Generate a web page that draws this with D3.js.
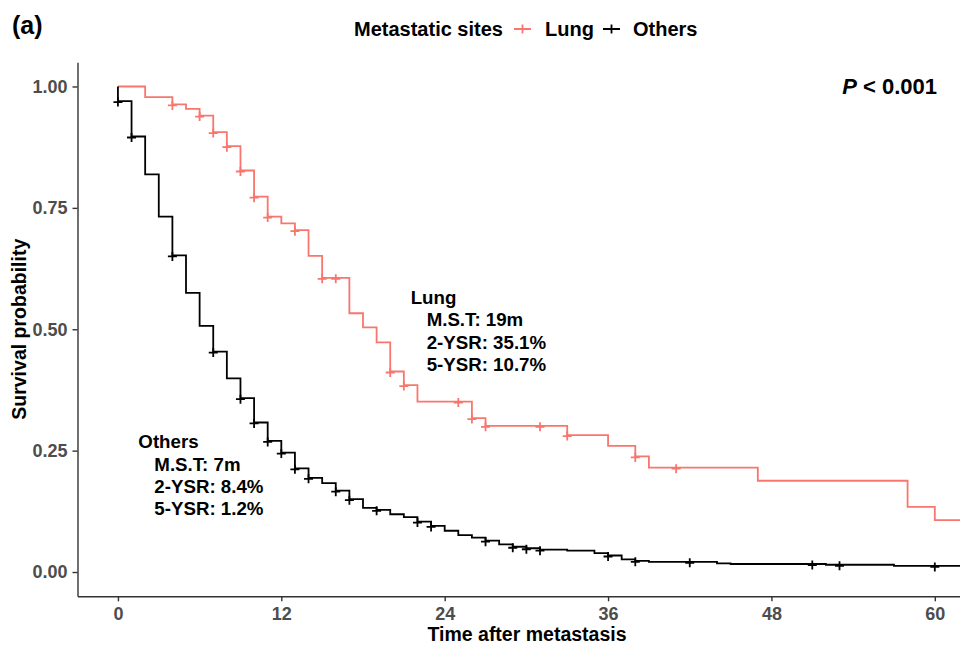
<!DOCTYPE html>
<html>
<head>
<meta charset="utf-8">
<script src="https://cdn.jsdelivr.net/npm/d3@7"></script>
<style>
  body { margin: 0; background: #fff; }
  text { font-family: "Liberation Sans", Arial, sans-serif; font-weight: bold; }
</style>
</head>
<body>
<script>
// survival steps (months, survival after step)
const lungTimes = [0, 2, 4, 5, 6, 7, 8, 9, 10, 11, 12, 13, 14, 15, 17, 18, 19, 20, 21, 22, 26, 27, 33, 36, 38, 39, 47, 58, 60];
const lungSurv = [1, 0.978, 0.963, 0.954, 0.94, 0.906, 0.877, 0.827, 0.773, 0.732, 0.718, 0.704, 0.651, 0.606, 0.533, 0.504, 0.473, 0.413, 0.385, 0.351, 0.317, 0.301, 0.282, 0.26, 0.238, 0.215, 0.188, 0.134, 0.107];
const lungCensor = [4, 6, 7, 8, 9, 10, 11, 13, 15, 16, 20, 21, 25, 26, 27, 31, 33, 38, 41];

const otherTimes = [0, 0, 1, 2, 3, 4, 5, 6, 7, 8, 9, 10, 11, 12, 13, 14, 15, 16, 17, 18, 19, 20, 21, 22, 23, 24, 25, 26, 27, 28, 29, 30, 31, 33, 35, 36, 37, 38, 39, 44, 45, 52, 57];
const otherSurv = [1, 0.97, 0.897, 0.819, 0.732, 0.652, 0.575, 0.507, 0.454, 0.399, 0.358, 0.308, 0.27, 0.246, 0.2135, 0.194, 0.183, 0.1675, 0.15, 0.132, 0.128, 0.119, 0.113, 0.104, 0.095, 0.085, 0.076, 0.071, 0.0645, 0.057, 0.052, 0.049, 0.046, 0.044, 0.039, 0.034, 0.026, 0.023, 0.021, 0.018, 0.0165, 0.015, 0.0125];
const otherCensor = [0, 1, 4, 7, 9, 10, 11, 12, 13, 14, 16, 17, 19, 22, 23, 27, 29, 30, 31, 36, 38, 42, 51, 53, 60];

const groups = ["Lung", "Others"];
const colors = ["#F8766D", "#000000"];
const xTicks = [0, 12, 24, 36, 48, 60];
const yTicks = [0, 0.25, 0.5, 0.75, 1];

const lungNote = ["Lung", "M.S.T: 19m", "2-YSR: 35.1%", "5-YSR: 10.7%"];
const otherNote = ["Others", "M.S.T: 7m", "2-YSR: 8.4%", "5-YSR: 1.2%"];

const W = 960, H = 646;
const panelL = 77.5, panelR = 960, panelT = 62.2, panelB = 596.3;

const svg = d3.select("body").append("svg")
  .attr("width", W).attr("height", H);

const x = d3.scaleLinear().domain([-2.97, 61.85]).range([panelL, panelR]);
const y = d3.scaleLinear().domain([-0.05, 1.05]).range([panelB, panelT]);

const series = [
  { name: groups[0], times: lungTimes, surv: lungSurv, censor: lungCensor, color: colors[0] },
  { name: groups[1], times: otherTimes, surv: otherSurv, censor: otherCensor, color: colors[1] }
];

const line = d3.line().curve(d3.curveStepAfter)
  .x(d => x(d[0])).y(d => y(d[1]));

function survAt(s, t) {
  const i = d3.bisectRight(s.times, t) - 1;
  return s.surv[Math.max(i, 0)];
}

const plot = svg.append("g");

series.forEach(s => {
  const pts = s.times.map((t, i) => [t, s.surv[i]]);
  pts.push([63, s.surv[s.surv.length - 1]]);
  plot.append("path")
    .attr("d", line(pts))
    .attr("fill", "none")
    .attr("stroke", s.color)
    .attr("stroke-width", 1.8);

  const m = 4.5;
  plot.append("g").selectAll("path")
    .data(s.censor)
    .join("path")
    .attr("d", t => {
      const cx = x(t), cy = y(survAt(s, t)) + 1;
      return `M${cx - m},${cy}H${cx + m}M${cx},${cy - m}V${cy + m}`;
    })
    .attr("stroke", s.color)
    .attr("stroke-width", 1.8);
});

// axes
const xAxis = svg.append("g")
  .attr("transform", `translate(0,${panelB})`)
  .call(d3.axisBottom(x).tickValues(xTicks).tickSize(5).tickSizeOuter(0).tickPadding(6));
const yAxis = svg.append("g")
  .attr("transform", `translate(${panelL},0)`)
  .call(d3.axisLeft(y).tickValues(yTicks).tickFormat(d3.format(".2f")).tickSize(5).tickSizeOuter(0).tickPadding(5));

[xAxis, yAxis].forEach(a => {
  a.select(".domain").attr("stroke", "#333").attr("stroke-width", 1.4);
  a.selectAll(".tick line").attr("stroke", "#333").attr("stroke-width", 1.4);
  a.selectAll(".tick text")
    .attr("fill", "#4d4d4d")
    .style("font-size", "18px")
    .style("font-family", "'Liberation Sans', Arial, sans-serif")
    .style("font-weight", "bold");
});

svg.append("text")
  .attr("x", 527).attr("y", 641)
  .attr("text-anchor", "middle")
  .style("font-size", "19.5px")
  .text("Time after metastasis");

svg.append("text")
  .attr("transform", `translate(26,${(panelT + panelB) / 2}) rotate(-90)`)
  .attr("text-anchor", "middle")
  .style("font-size", "19.5px")
  .text("Survival probability");

// panel tag
svg.append("text")
  .attr("x", 12).attr("y", 34)
  .style("font-size", "25px")
  .text("(a)");

// legend
const legend = svg.append("g");
legend.append("text")
  .attr("x", 354).attr("y", 36)
  .style("font-size", "20px")
  .text("Metastatic sites");
const keyX = [514, 603];
const labX = [545, 633];
groups.forEach((g, i) => {
  legend.append("path")
    .attr("d", `M${keyX[i]},29H${keyX[i] + 17}M${keyX[i] + 8.5},24.5V33.5`)
    .attr("stroke", colors[i])
    .attr("stroke-width", 1.8);
  legend.append("text")
    .attr("x", labX[i]).attr("y", 36)
    .style("font-size", "20px")
    .text(g);
});

// annotations
function note(lines, t, s) {
  const g = svg.append("g");
  lines.forEach((l, i) => {
    g.append("text")
      .attr("x", x(t) + (i ? 16 : 0))
      .attr("y", y(s) + i * 22.3)
      .style("font-size", "18.7px")
      .text(l);
  });
}
note(lungNote, 21.5, 0.552);
note(otherNote, 1.5, 0.255);

const p = svg.append("text")
  .attr("x", x(53.2)).attr("y", y(0.984))
  .style("font-size", "22px");
p.append("tspan").style("font-style", "italic").text("P");
p.append("tspan").text(" < 0.001");
</script>
</body>
</html>
